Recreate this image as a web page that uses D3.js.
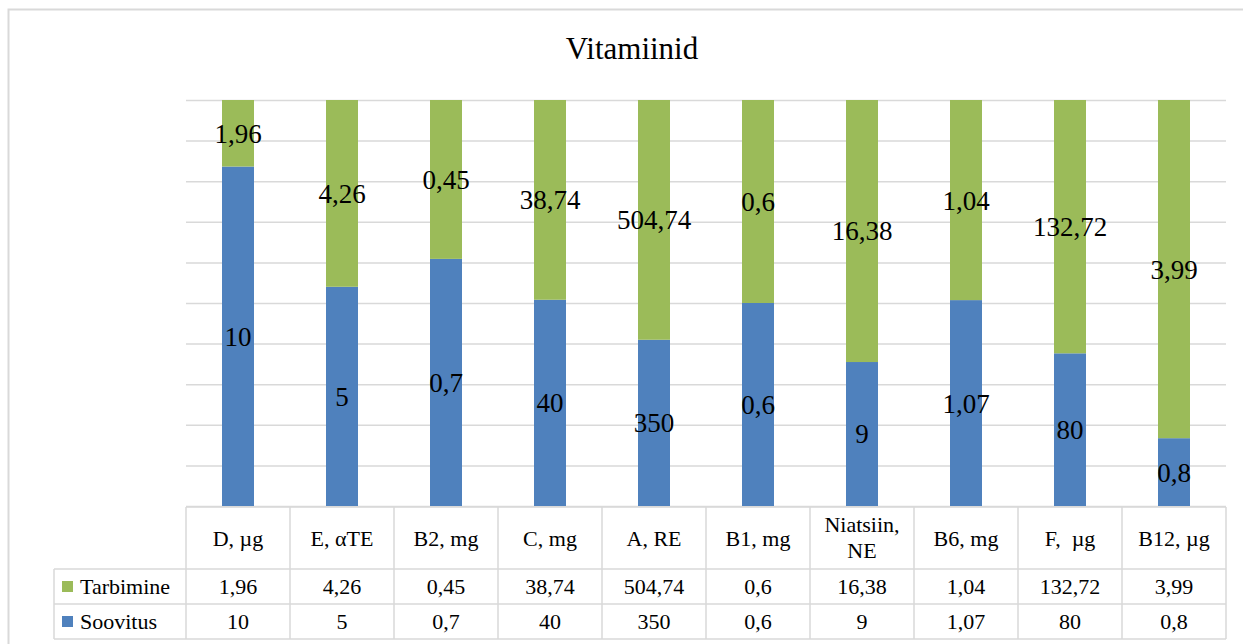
<!DOCTYPE html>
<html>
<head>
<meta charset="utf-8">
<script src="https://cdn.jsdelivr.net/npm/d3@7/dist/d3.min.js"></script>
<style>
  body { margin: 0; background: #fff; }
  svg text { fill: #000; }
</style>
</head>
<body>
<div id="chart"></div>
<script>
const categories = ['D, µg', 'E, αTE', 'B2, mg', 'C, mg', 'A, RE', 'B1, mg', 'Niatsiin, NE', 'B6, mg', 'F,  µg', 'B12, µg'];
const tarbimine = [1.96, 4.26, 0.45, 38.74, 504.74, 0.6, 16.38, 1.04, 132.72, 3.99];
const soovitus = [10, 5, 0.7, 40, 350, 0.6, 9, 1.07, 80, 0.8];
const seriesNames = ['Soovitus', 'Tarbimine'];
const colors = { Soovitus: '#4f81bd', Tarbimine: '#9bbb59' };

const W = 1243;
const H = 644;
const fmt = (v) => String(v).replace('.', ',');

// pick the first serif face that is really installed
const pickFont = () => {
  const ctx = document.createElement('canvas').getContext('2d');
  const sample = 'Vitamiinid 1,96 Tarbimine';
  ctx.font = '40px monospace';
  const base = ctx.measureText(sample).width;
  const names = ['Liberation Serif', 'Tinos', 'Times New Roman', 'DejaVu Serif', 'Noto Serif', 'FreeSerif'];
  const hit = names.find((n) => {
    ctx.font = `40px "${n}", monospace`;
    return Math.abs(ctx.measureText(sample).width - base) > 0.5;
  });
  return hit ? `"${hit}", serif` : 'serif';
};
const FONT = pickFont();

// plot area + table geometry
const plot = { left: 186, right: 1226, top: 100, bottom: 506 };
const table = { legendLeft: 54, headTop: 507, row1: 569, row2: 604, bottom: 639 };

const svg = d3.select('#chart')
  .append('svg')
  .attr('width', W)
  .attr('height', H)
  .style('font-family', FONT);

// outer frame
svg.append('rect')
  .attr('x', 8.5).attr('y', 9.5)
  .attr('width', W + 20).attr('height', H + 20)
  .attr('fill', 'none')
  .attr('stroke', '#d9d9d9')
  .attr('stroke-width', 2);

svg.append('text')
  .attr('x', 632).attr('y', 59)
  .attr('text-anchor', 'middle')
  .style('font-size', '31px')
  .text('Vitamiinid');

const x = d3.scaleBand()
  .domain(categories)
  .range([plot.left, plot.right])
  .paddingInner(0.6923)
  .paddingOuter(0.34615);

const col = d3.scaleBand()
  .domain(categories)
  .range([plot.left, plot.right])
  .padding(0);

const y = d3.scaleLinear()
  .domain([0, 1])
  .range([plot.bottom, plot.top]);

// gridlines
svg.append('g')
  .attr('transform', `translate(${plot.left},0)`)
  .call(d3.axisLeft(y).ticks(10).tickSize(-(plot.right - plot.left)).tickFormat(''))
  .call((g) => g.select('.domain').remove())
  .call((g) => g.selectAll('line').attr('stroke', '#d9d9d9').attr('stroke-width', 1.5));

// 100% stacked data
const rows = categories.map((c, i) => {
  const total = soovitus[i] + tarbimine[i];
  return { cat: c, Soovitus: soovitus[i] / total, Tarbimine: tarbimine[i] / total, raw: { Soovitus: soovitus[i], Tarbimine: tarbimine[i] } };
});
const stacked = d3.stack().keys(seriesNames)(rows);

const layers = svg.append('g')
  .selectAll('g')
  .data(stacked)
  .join('g')
  .attr('fill', (d) => colors[d.key]);

layers.selectAll('rect')
  .data((d) => d)
  .join('rect')
  .attr('x', (d) => x(d.data.cat))
  .attr('width', x.bandwidth())
  .attr('y', (d) => y(d[1]))
  .attr('height', (d) => y(d[0]) - y(d[1]));

// data labels
stacked.forEach((layer) => {
  svg.append('g')
    .selectAll('text')
    .data(layer)
    .join('text')
    .attr('x', (d) => x(d.data.cat) + x.bandwidth() / 2)
    .attr('y', (d) => (y(d[0]) + y(d[1])) / 2)
    .attr('dy', '0.35em')
    .attr('text-anchor', 'middle')
    .style('font-size', '27px')
    .text((d) => fmt(d.data.raw[layer.key]));
});

// data table
const tg = svg.append('g')
  .attr('stroke', '#d9d9d9')
  .attr('stroke-width', 1.5)
  .attr('fill', 'none');

tg.append('line').attr('x1', plot.left).attr('x2', plot.right).attr('y1', table.headTop).attr('y2', table.headTop);
[table.row1, table.row2, table.bottom].forEach((yy) => {
  tg.append('line').attr('x1', table.legendLeft).attr('x2', plot.right).attr('y1', yy).attr('y2', yy);
});
tg.append('line').attr('x1', table.legendLeft).attr('x2', table.legendLeft).attr('y1', table.row1).attr('y2', table.bottom);
categories.forEach((c) => {
  tg.append('line').attr('x1', col(c)).attr('x2', col(c)).attr('y1', table.headTop).attr('y2', table.bottom);
});
tg.append('line').attr('x1', plot.right).attr('x2', plot.right).attr('y1', table.headTop).attr('y2', table.bottom);

// header labels
svg.append('g')
  .selectAll('text')
  .data(categories)
  .join('text')
  .attr('x', (d) => col(d) + col.bandwidth() / 2)
  .attr('y', 546)
  .attr('text-anchor', 'middle')
  .style('font-size', '22px')
  .each(function (d) {
    const parts = d === 'Niatsiin, NE' ? ['Niatsiin,', 'NE'] : [d];
    const t = d3.select(this);
    if (parts.length > 1) t.attr('y', 532);
    parts.forEach((p, i) => {
      t.append('tspan')
        .attr('x', col(d) + col.bandwidth() / 2)
        .attr('dy', i === 0 ? 0 : 26)
        .style('white-space', 'pre')
        .text(p);
    });
  });

// value rows
const tableRows = [
  { key: 'Tarbimine', values: tarbimine, top: table.row1, bottom: table.row2 },
  { key: 'Soovitus', values: soovitus, top: table.row2, bottom: table.bottom },
];

tableRows.forEach((r) => {
  const mid = (r.top + r.bottom) / 2;
  svg.append('rect')
    .attr('x', 62).attr('y', mid - 5.5)
    .attr('width', 11).attr('height', 11)
    .attr('fill', colors[r.key]);
  svg.append('text')
    .attr('x', 80).attr('y', mid + 7.5)
    .style('font-size', '22px')
    .text(r.key);
  svg.append('g')
    .selectAll('text')
    .data(r.values)
    .join('text')
    .attr('x', (d, i) => col(categories[i]) + col.bandwidth() / 2)
    .attr('y', mid + 7.5)
    .attr('text-anchor', 'middle')
    .style('font-size', '22px')
    .text((d) => fmt(d));
});
</script>
</body>
</html>
